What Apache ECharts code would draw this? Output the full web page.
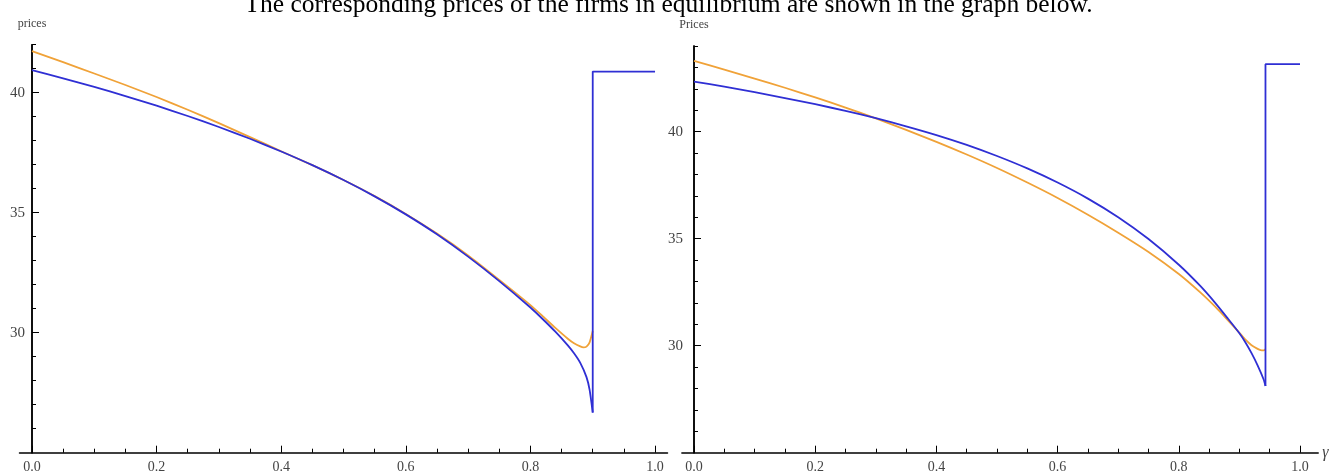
<!DOCTYPE html>
<html><head><meta charset="utf-8">
<script src="https://cdn.jsdelivr.net/npm/echarts@6/dist/echarts.min.js"></script>
<style>html,body{margin:0;padding:0;background:#fff}#c{width:1337px;height:475px}</style>
</head><body><div id="c"></div>
<script>
const titleText = "The corresponding prices of the firms in equilibrium are shown in the graph below.";
const leftYName = "prices";
const rightYName = "Prices";
const rightXName = "γ";

const xMajorTicks = [0, 0.2, 0.4, 0.6, 0.8, 1.0];
const xMinorTicks = [0.05, 0.1, 0.15, 0.25, 0.3, 0.35, 0.45, 0.5, 0.55, 0.65, 0.7, 0.75, 0.85, 0.9, 0.95];
const leftYMajorTicks = [30, 35, 40];
const leftYMinorTicks = [26, 27, 28, 29, 31, 32, 33, 34, 36, 37, 38, 39, 41, 42];
const rightYMajorTicks = [30, 35, 40];
const rightYMinorTicks = [26, 27, 28, 29, 31, 32, 33, 34, 36, 37, 38, 39, 41, 42, 43, 44];

// Left panel
const leftBlueX = [0, 0.05, 0.1, 0.15, 0.2, 0.25, 0.3, 0.35, 0.4, 0.45, 0.5, 0.55, 0.6, 0.65, 0.7, 0.75, 0.8, 0.82, 0.84, 0.86, 0.87, 0.88, 0.89, 0.895, 0.9];
const leftBlueY = [40.94, 40.60, 40.24, 39.86, 39.46, 39.03, 38.57, 38.08, 37.55, 36.98, 36.36, 35.68, 34.93, 34.10, 33.17, 32.15, 31.05, 30.56, 30.04, 29.47, 29.14, 28.74, 28.15, 27.62, 26.67];
const leftBlueFlatX = [0.9, 1.0];
const leftBlueFlatY = [40.88, 40.88];
const leftOrangeX = [0, 0.05, 0.1, 0.15, 0.2, 0.25, 0.3, 0.35, 0.4, 0.45, 0.5, 0.55, 0.6, 0.65, 0.7, 0.75, 0.8, 0.82, 0.84, 0.86, 0.87, 0.88, 0.885, 0.89, 0.895, 0.9];
const leftOrangeY = [41.73, 41.27, 40.80, 40.32, 39.82, 39.29, 38.73, 38.15, 37.56, 36.98, 36.36, 35.69, 34.95, 34.13, 33.22, 32.20, 31.15, 30.68, 30.20, 29.75, 29.56, 29.43, 29.39, 29.42, 29.60, 30.07];

// Right panel
const rightBlueX = [0, 0.05, 0.1, 0.15, 0.2, 0.25, 0.3, 0.35, 0.4, 0.45, 0.5, 0.55, 0.6, 0.65, 0.7, 0.75, 0.8, 0.835, 0.86, 0.88, 0.9, 0.91, 0.92, 0.93, 0.94, 0.943];
const rightBlueY = [42.34, 42.10, 41.84, 41.57, 41.28, 40.97, 40.63, 40.25, 39.84, 39.38, 38.86, 38.28, 37.62, 36.87, 36.00, 34.98, 33.78, 32.80, 32.00, 31.30, 30.58, 30.15, 29.65, 29.08, 28.42, 28.12];
const rightBlueFlatX = [0.943, 1.0];
const rightBlueFlatY = [43.15, 43.15];
const rightOrangeX = [0, 0.05, 0.1, 0.15, 0.2, 0.25, 0.3, 0.35, 0.4, 0.45, 0.5, 0.55, 0.6, 0.65, 0.7, 0.75, 0.8, 0.835, 0.86, 0.88, 0.9, 0.91, 0.92, 0.93, 0.935, 0.94, 0.943];
const rightOrangeY = [43.30, 42.90, 42.48, 42.05, 41.60, 41.12, 40.62, 40.08, 39.52, 38.93, 38.30, 37.62, 36.90, 36.12, 35.28, 34.38, 33.35, 32.50, 31.82, 31.22, 30.60, 30.28, 30.02, 29.85, 29.79, 29.78, 29.83];

const BLUE = '#2f2fd4';
const ORANGE = '#f0a238';
const SERIF = "'Liberation Serif', 'DejaVu Serif', serif";

function pairs(xs, ys) { return xs.map((x, i) => [x, ys[i]]); }
function jump(xs, ys, fx, fy) {
  const n = xs.length - 1;
  return [[xs[n], ys[n]], ...pairs(fx, fy)];
}

function xAxes(gridIndex, min, max, name) {
  return [{
    type: 'value', gridIndex, min, max, position: 'bottom',
    name: name || '', nameLocation: 'end', nameGap: 4,
    nameTextStyle: { fontFamily: SERIF, fontSize: 16, fontStyle: 'italic', color: '#444', verticalAlign: 'middle' },
    axisLine: { show: true, onZero: false, lineStyle: { color: '#000', width: 1.5 } },
    axisTick: { show: true, inside: true, length: 7, customValues: xMajorTicks, lineStyle: { color: '#000', width: 1 } },
    axisLabel: { show: true, customValues: xMajorTicks, formatter: v => v.toFixed(1), margin: 8, fontFamily: SERIF, fontSize: 14, color: '#444' },
    splitLine: { show: false }
  }, {
    type: 'value', gridIndex, min, max, position: 'bottom',
    axisLine: { show: false, onZero: false },
    axisTick: { show: true, inside: true, length: 4, customValues: xMinorTicks, lineStyle: { color: '#000', width: 1 } },
    axisLabel: { show: false },
    splitLine: { show: false }
  }];
}

function yAxes(gridIndex, min, max, major, minor, name, offset, labelMargin) {
  return [{
    type: 'value', gridIndex, min, max, position: 'left', offset,
    name, nameLocation: 'end', nameGap: 15,
    nameTextStyle: { fontFamily: SERIF, fontSize: 12, color: '#444' },
    axisLine: { show: true, onZero: false, lineStyle: { color: '#000', width: 1.5 } },
    axisTick: { show: true, inside: true, length: 7, customValues: major, lineStyle: { color: '#000', width: 1 } },
    axisLabel: { show: true, customValues: major, margin: labelMargin, fontFamily: SERIF, fontSize: 15, color: '#444' },
    splitLine: { show: false }
  }, {
    type: 'value', gridIndex, min, max, position: 'left', offset,
    axisLine: { show: true, onZero: false, lineStyle: { color: '#000', width: 1.5 } },
    axisTick: { show: true, inside: true, length: 4, customValues: minor, lineStyle: { color: '#000', width: 1 } },
    axisLabel: { show: false },
    splitLine: { show: false }
  }];
}

function line(name, data, color, xi, yi, smooth) {
  return {
    type: 'line', name, data, xAxisIndex: xi, yAxisIndex: yi,
    showSymbol: false, symbol: 'none', smooth: smooth, animation: false,
    lineStyle: { color, width: 1.8 }, z: 3
  };
}

const chart = echarts.init(document.getElementById('c'), null, { renderer: 'canvas' });
chart.setOption({
  animation: false,
  backgroundColor: '#fff',
  title: {
    text: titleText, left: 'center', top: -13,
    textStyle: { fontFamily: SERIF, fontSize: 25.5, fontWeight: 'normal', color: '#000' }
  },
  grid: [
    { left: 19.5, right: 669.5, top: 44.7, bottom: 22.3, containLabel: false, outerBoundsMode: 'none' },
    { left: 681.9, right: 18.8, top: 46, bottom: 22.3, containLabel: false, outerBoundsMode: 'none' }
  ],
  xAxis: [...xAxes(0, -0.02, 1.02, ''), ...xAxes(1, -0.02, 1.03, rightXName)],
  yAxis: [...yAxes(0, 25, 42, leftYMajorTicks, leftYMinorTicks, leftYName, -12.5, 7),
          ...yAxes(1, 25, 44, rightYMajorTicks, rightYMinorTicks, rightYName, -12.1, 11)],
  series: [
    line('left orange', pairs(leftOrangeX, leftOrangeY), ORANGE, 0, 0, 0.2),
    line('left blue', pairs(leftBlueX, leftBlueY), BLUE, 0, 0, 0.2),
    line('left blue jump', jump(leftBlueX, leftBlueY, leftBlueFlatX, leftBlueFlatY), BLUE, 0, 0, false),
    line('right orange', pairs(rightOrangeX, rightOrangeY), ORANGE, 2, 2, 0.2),
    line('right blue', pairs(rightBlueX, rightBlueY), BLUE, 2, 2, 0.2),
    line('right blue jump', jump(rightBlueX, rightBlueY, rightBlueFlatX, rightBlueFlatY), BLUE, 2, 2, false)
  ]
});
</script>
</body></html>
